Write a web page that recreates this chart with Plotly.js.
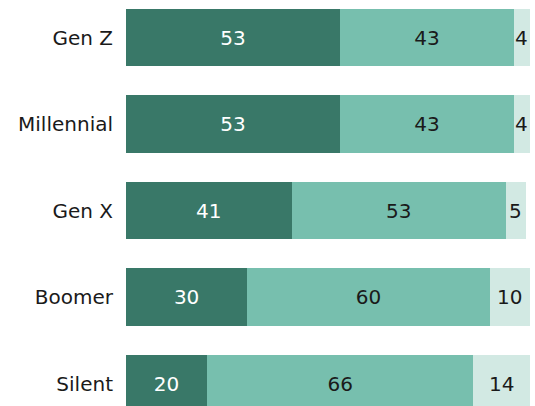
<!DOCTYPE html>
<html>
<head>
<meta charset="utf-8">
<script src="https://cdn.plot.ly/plotly-3.0.1.min.js"></script>
<style>
  html, body { margin: 0; padding: 0; background: #fff; }
  #plot { width: 535px; height: 406px; }
</style>
</head>
<body>
<div id="plot"></div>
<script>
var generations = ["Gen Z", "Millennial", "Gen X", "Boomer", "Silent"];
var first = [53, 53, 41, 30, 20];
var second = [43, 43, 53, 60, 66];
var third = [4, 4, 5, 10, 14];

var colors = ["#397868", "#77bfae", "#d2e9e3"];
var textColors = ["#ffffff", "#1a1a1a", "#1a1a1a"];
var labelFont = { family: "DejaVu Sans", size: 20 };

function makeTrace(vals, i, showText) {
    return {
        type: "bar",
        orientation: "h",
        y: generations,
        x: vals,
        text: vals.map(String),
        textposition: showText ? "inside" : "none",
        insidetextanchor: "middle",
        constraintext: "none",
        textfont: { family: labelFont.family, size: labelFont.size, color: textColors[i] },
        marker: { color: colors[i], line: { width: 0 } },
        hoverinfo: "none",
        cliponaxis: false
    };
}

var data = [makeTrace(first, 0, true), makeTrace(second, 1, true), makeTrace(third, 2, false)];

// small last segments: label them by annotation so the text keeps full size
var annotations = generations.map(function (g, k) {
    return {
        x: first[k] + second[k] + third[k] / 2,
        y: g,
        xref: "x",
        yref: "y",
        text: String(third[k]),
        showarrow: false,
        font: { family: labelFont.family, size: labelFont.size, color: textColors[2] }
    };
});

var layout = {
    barmode: "stack",
    bargap: 0.34,
    showlegend: false,
    margin: { l: 126, r: 5, t: 0, b: 0 },
    paper_bgcolor: "#ffffff",
    plot_bgcolor: "#ffffff",
    annotations: annotations,
    xaxis: {
        range: [0, 100],
        visible: false,
        fixedrange: true
    },
    yaxis: {
        type: "category",
        range: [4.26, -0.434],
        showgrid: false,
        zeroline: false,
        showline: false,
        ticks: "",
        ticklabelstandoff: 12,
        tickfont: { family: labelFont.family, size: labelFont.size, color: "#1a1a1a" },
        fixedrange: true
    }
};

Plotly.newPlot("plot", data, layout, { displayModeBar: false, staticPlot: true });
</script>
</body>
</html>
